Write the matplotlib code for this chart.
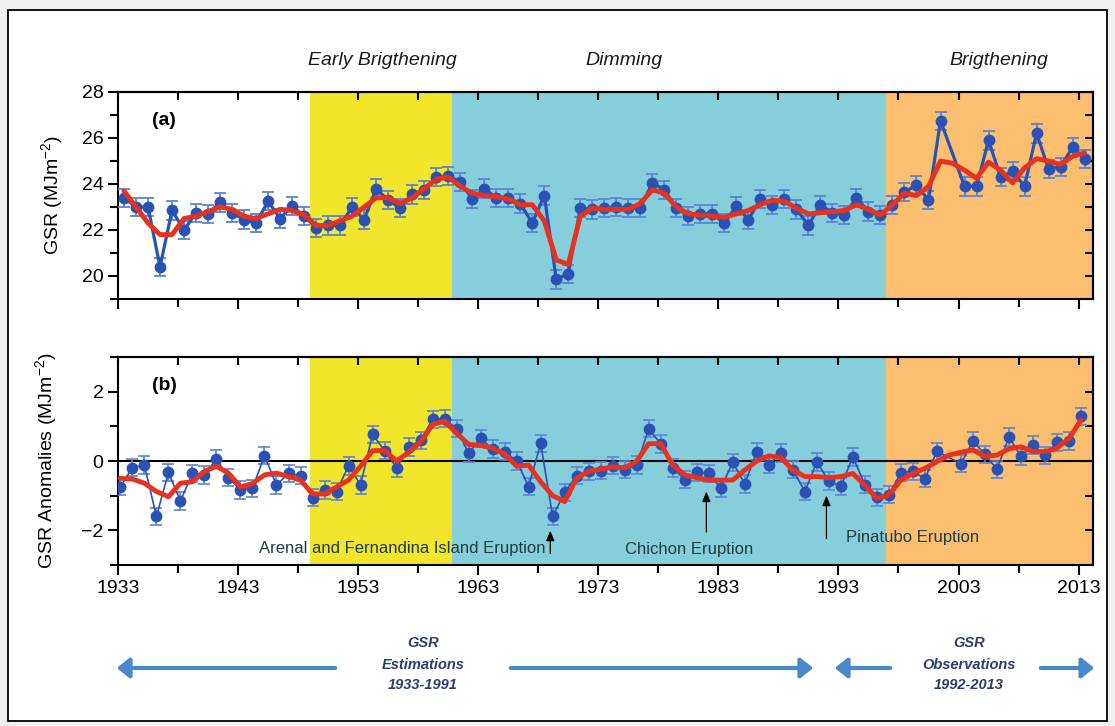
import matplotlib
matplotlib.use("Agg")
import matplotlib.pyplot as plt
from matplotlib.patches import Rectangle, FancyArrowPatch
from matplotlib.ticker import FixedLocator
import numpy as np

# ---------------- data ----------------
years_all = list(range(1933, 2014))
years_obs = [y for y in years_all if y != 2002]   # 2002 has no marker

gsr = [23.4, 23.0, 23.0, 20.4, 22.85, 22.0, 22.75, 22.7, 23.2, 22.75,
       22.45, 22.3, 23.25, 22.5, 23.05, 22.6, 22.1, 22.2, 22.2, 23.0,
       22.45, 23.8, 23.3, 22.95, 23.55, 23.75, 24.3, 24.35, 24.1, 23.35,
       23.8, 23.4, 23.4, 23.15, 22.3, 23.5, 19.85, 20.1, 22.95, 22.9,
       22.95, 23.0, 22.95, 22.95, 24.05, 23.75, 22.95, 22.6, 22.7, 22.7,
       22.3, 23.05, 22.45, 23.35, 23.1, 23.35, 22.9, 22.2, 23.1, 22.75,
       22.65, 23.4, 22.8, 22.65, 23.1, 23.65, 23.95, 23.3, 26.75,
       23.9, 23.9, 25.9, 24.3, 24.55, 23.9, 26.2, 24.65, 24.75, 25.6, 25.1]

gsr_smooth = [23.7, 23.0, 22.3, 21.8, 21.8, 22.5, 22.6, 22.8, 23.0, 22.9,
              22.6, 22.5, 22.7, 22.9, 22.85, 22.65, 22.2, 22.2, 22.4, 22.6,
              23.0, 23.4, 23.4, 23.15, 23.4, 23.8, 24.2, 24.3, 23.9, 23.6,
              23.5, 23.45, 23.35, 23.1, 23.1, 22.4, 20.7, 20.5, 22.6, 22.95,
              22.9, 22.9, 22.9, 23.15, 23.75, 23.6, 23.0, 22.7, 22.65, 22.6,
              22.55, 22.7, 22.85, 23.1, 23.3, 23.25, 22.95, 22.7, 22.75, 22.8,
              22.85, 23.1, 22.9, 22.65, 23.1, 23.6, 23.5, 23.9, 25.0, 24.9,
              24.6, 24.25, 24.95, 24.6, 24.05, 24.7, 25.1, 25.0, 24.85, 25.2, 25.35]

anom = [-0.74, -0.19, -0.12, -1.6, -0.33, -1.15, -0.36, -0.4, 0.06, -0.48,
        -0.84, -0.79, 0.15, -0.69, -0.36, -0.42, -1.06, -0.84, -0.88, -0.14,
        -0.69, 0.77, 0.3, -0.2, 0.4, 0.6, 1.2, 1.22, 0.93, 0.22,
        0.65, 0.35, 0.27, 0.0, -0.74, 0.51, -1.6, -0.9, -0.42, -0.3,
        -0.28, -0.13, -0.25, -0.12, 0.93, 0.49, -0.2, -0.54, -0.33, -0.36,
        -0.78, -0.04, -0.66, 0.27, -0.11, 0.23, -0.25, -0.88, -0.03, -0.58,
        -0.73, 0.12, -0.68, -1.05, -0.97, -0.34, -0.3, -0.51, 0.28,
        -0.08, 0.58, 0.19, -0.24, 0.69, 0.13, 0.46, 0.16, 0.54, 0.58, 1.29]

anom_smooth = [-0.5, -0.52, -0.64, -0.88, -1.03, -0.64, -0.6, -0.3, -0.15, -0.35,
               -0.75, -0.65, -0.4, -0.35, -0.45, -0.55, -0.95, -0.95, -0.75, -0.55,
               -0.15, 0.3, 0.3, 0.0, 0.25, 0.55, 1.05, 1.15, 0.8, 0.48,
               0.45, 0.37, 0.2, -0.15, -0.12, -0.6, -1.0, -1.17, -0.5, -0.3,
               -0.23, -0.17, -0.2, 0.0, 0.5, 0.5, -0.12, -0.4, -0.48, -0.55,
               -0.55, -0.55, -0.26, 0.0, 0.15, 0.1, -0.26, -0.45, -0.45, -0.48,
               -0.45, -0.36, -0.7, -1.08, -0.98, -0.55, -0.36, -0.21, -0.02, 0.17,
               0.25, 0.32, 0.13, 0.17, 0.35, 0.41, 0.27, 0.27, 0.37, 0.65, 1.18]

gsr_err = 0.4
anom_err = 0.25

period_bounds = [1949, 1960.8, 1997, 2014.2]
period_names = ["Early Brigthening", "Dimming", "Brigthening"]
period_label_x = [1955.0, 1975.1, 2006.4]

eruptions = ["Arenal and Fernandina Island Eruption", "Chichon Eruption", "Pinatubo Eruption"]
eruption_years = [1969, 1982, 1992]

xticks_major = list(range(1933, 2014, 10))
xticks_minor = list(range(1938, 2014, 10))

# ---------------- styling ----------------
plt.rcParams['font.family'] = ['Liberation Sans', 'DejaVu Sans']
plt.rcParams['mathtext.fontset'] = 'custom'
plt.rcParams['mathtext.rm'] = 'Liberation Sans'
plt.rcParams['mathtext.it'] = 'Liberation Sans:italic'
plt.rcParams['mathtext.default'] = 'regular'
W, H = 1115, 726
BLUE = '#2a52b5'
ERR = '#5b84d4'
RED = '#e8321e'
YEL = '#f2e62c'
CYAN = '#87cedd'
ORG = '#fbbf6f'
TXT = '#1e3c42'


def fx(px):
    return px / W


def fy(py):
    return 1 - py / H


fig = plt.figure(figsize=(11.15, 7.26), dpi=100, facecolor='#efefef')
frame = Rectangle((fx(8), fy(721)), fx(1107) - fx(8), fy(10) - fy(721),
                  transform=fig.transFigure, facecolor='white',
                  edgecolor='black', lw=1.3, zorder=-10)
fig.patches.append(frame)

ax1 = fig.add_axes([fx(118), fy(299), fx(1093) - fx(118), fy(92) - fy(299)])
ax2 = fig.add_axes([fx(118), fy(565), fx(1093) - fx(118), fy(357) - fy(565)])
ax1.set_zorder(2)
ax2.set_zorder(2)

x_all = np.array(years_all, dtype=float)
x_obs = np.array(years_obs, dtype=float)

for ax in (ax1, ax2):
    ax.axvspan(period_bounds[0], period_bounds[1], color=YEL, lw=0, zorder=0)
    ax.axvspan(period_bounds[1], period_bounds[2], color=CYAN, lw=0, zorder=0)
    ax.axvspan(period_bounds[2], period_bounds[3], color=ORG, lw=0, zorder=0)
    ax.set_xlim(1933, 2014.2)
    ax.set_xticks(xticks_major)
    ax.xaxis.set_minor_locator(FixedLocator(xticks_minor))
    ax.tick_params(which='major', direction='out', length=7, width=1.5, labelsize=14)
    ax.tick_params(which='minor', direction='out', length=6, width=1.5)
    for s in ax.spines.values():
        s.set_linewidth(1.5)
    secx = ax.secondary_xaxis('top')
    secx.set_xticks(xticks_major, labels=[''] * len(xticks_major))
    secx.xaxis.set_minor_locator(FixedLocator(xticks_minor))
    secx.tick_params(which='both', direction='in', length=6, width=1.5)
    secx.spines['top'].set_linewidth(1.5)

# ---- top panel ----
ax1.errorbar(x_obs + 0.5, gsr, yerr=gsr_err, fmt='-o', color=BLUE, ecolor=ERR,
             elinewidth=1.3, capsize=4, capthick=1.3, ms=7.5, lw=2.3, zorder=3)
ax1.plot(x_all + 0.5, gsr_smooth, color=RED, lw=3.5, solid_joinstyle='round',
         solid_capstyle='round', zorder=4)
ax1.set_ylim(19, 28)
ax1.set_yticks([20, 22, 24, 26, 28])
ax1.yaxis.set_minor_locator(FixedLocator([19, 21, 23, 25, 27]))
ax1.set_xticklabels([])
ax1.set_ylabel('GSR (MJm$^{-2}$)', fontsize=14, labelpad=12)
ax1.text(0.035, 0.84, '(a)', transform=ax1.transAxes, fontsize=14, fontweight='bold')
secy1 = ax1.secondary_yaxis('right')
secy1.set_yticks([20, 22, 24, 26, 28], labels=[''] * 5)
secy1.yaxis.set_minor_locator(FixedLocator([19, 21, 23, 25, 27]))
secy1.tick_params(which='both', direction='in', length=6, width=1.5)
secy1.spines['right'].set_linewidth(1.5)

for name, xc in zip(period_names, period_label_x):
    ax1.text(xc, 1.15, name, transform=ax1.get_xaxis_transform(), ha='center',
             va='center', fontsize=14, fontstyle='italic', color='#1a1a1a')

# ---- bottom panel ----
ax2.axhline(0, color='black', lw=1.5, zorder=2)
ax2.errorbar(x_obs + 0.2, anom, yerr=anom_err, fmt='-o', color=BLUE, ecolor=ERR,
             elinewidth=1.2, capsize=4, capthick=1.2, ms=7.5, lw=1.2, zorder=3)
ax2.plot(x_all + 0.2, anom_smooth, color=RED, lw=3.5, solid_joinstyle='round',
         solid_capstyle='round', zorder=4)
ax2.set_ylim(-3, 3)
ax2.set_yticks([-2, 0, 2])
ax2.yaxis.set_minor_locator(FixedLocator([-3, -1, 1, 3]))
ax2.set_ylabel('GSR Anomalies (MJm$^{-2}$)', fontsize=14, labelpad=16)
ax2.text(0.035, 0.84, '(b)', transform=ax2.transAxes, fontsize=14, fontweight='bold')
secy2 = ax2.secondary_yaxis('right')
secy2.set_yticks([-2, 0, 2], labels=[''] * 3)
secy2.yaxis.set_minor_locator(FixedLocator([-3, -1, 1, 3]))
secy2.tick_params(which='both', direction='in', length=6, width=1.5)
secy2.spines['right'].set_linewidth(1.5)

# eruption annotations
arrow_kw = dict(arrowstyle='-|>,head_length=0.6,head_width=0.25', color='black', lw=0.9)
ax2.annotate('', xy=(eruption_years[0], -1.93), xytext=(eruption_years[0], -2.75),
             arrowprops=arrow_kw, zorder=5)
ax2.text(eruption_years[0] - 0.4, -2.52, eruptions[0], ha='right', va='center',
         fontsize=12, color=TXT, zorder=5)
ax2.annotate('', xy=(eruption_years[1], -0.8), xytext=(eruption_years[1], -2.13),
             arrowprops=arrow_kw, zorder=5)
ax2.text(1980.6, -2.56, eruptions[1], ha='center', va='center', fontsize=12,
         color=TXT, zorder=5)
ax2.annotate('', xy=(eruption_years[2], -0.92), xytext=(eruption_years[2], -2.32),
             arrowprops=arrow_kw, zorder=5)
ax2.text(1999.2, -2.2, eruptions[2], ha='center', va='center', fontsize=12,
         color=TXT, zorder=5)

# ---- bottom legend arrows ----
ACOL = '#4a88cc'


def farrow(x0, x1, y):
    a = FancyArrowPatch((fx(x0), fy(y)), (fx(x1), fy(y)), transform=fig.transFigure,
                        arrowstyle='-|>,head_length=5,head_width=4', mutation_scale=1.5,
                        color=ACOL, lw=3.0, zorder=1)
    fig.patches.append(a)


farrow(338, 114, 668)
farrow(508, 816, 668)
farrow(893, 832, 668)
farrow(1038, 1097, 668)

NAVY = '#2c3d73'
for xc, lines in ((423, ['GSR', 'Estimations', '1933-1991']),
                  (969, ['GSR', 'Observations', '1992-2013'])):
    for ln, yy in zip(lines, (643, 665, 685)):
        fig.text(fx(xc), fy(yy), ln, ha='center', va='center', fontsize=10.5,
                 fontweight='bold', fontstyle='italic', color=NAVY)

fig.savefig('out.png', dpi=100, facecolor=fig.get_facecolor())
